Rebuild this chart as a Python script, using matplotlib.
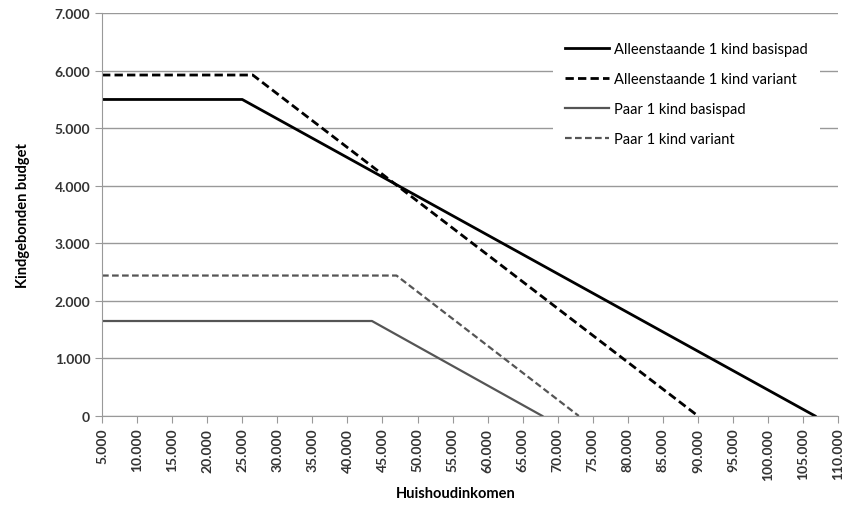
import matplotlib.pyplot as plt
from matplotlib.ticker import FuncFormatter, MultipleLocator

# knikpunten per reeks (inkomen, budget)
alleen_basis_x = [5000, 25000, 106700]
alleen_basis_y = [5500, 5500, 0]
alleen_var_x = [5000, 26500, 90000]
alleen_var_y = [5925, 5925, 0]
paar_basis_x = [5000, 43500, 67800]
paar_basis_y = [1650, 1650, 0]
paar_var_x = [5000, 47000, 73000]
paar_var_y = [2440, 2440, 0]

plt.rcParams['font.family'] = ['Lato', 'DejaVu Sans']

fig = plt.figure(figsize=(8.61, 5.06), dpi=100)
ax = fig.add_axes([0.1185, 0.176, 0.855, 0.796])

ax.plot(alleen_basis_x, alleen_basis_y, color='black', lw=2.0,
        label='Alleenstaande 1 kind basispad')
ax.plot(alleen_var_x, alleen_var_y, color='black', lw=2.0, ls=(0, (3, 1.5)),
        label='Alleenstaande 1 kind variant')
ax.plot(paar_basis_x, paar_basis_y, color='#555555', lw=1.6,
        label='Paar 1 kind basispad')
ax.plot(paar_var_x, paar_var_y, color='#555555', lw=1.6, ls=(0, (3, 1.5)),
        label='Paar 1 kind variant')

ax.set_xlim(5000, 110000)
ax.set_ylim(0, 7000)
ax.xaxis.set_major_locator(MultipleLocator(5000))
ax.yaxis.set_major_locator(MultipleLocator(1000))

def dots(v, pos):
    return f'{int(v):,}'.replace(',', '.')

ax.xaxis.set_major_formatter(FuncFormatter(dots))
ax.yaxis.set_major_formatter(FuncFormatter(dots))

ax.grid(axis='y', color='#999999', lw=1.0)
ax.set_axisbelow(True)
for s in ['top', 'right']:
    ax.spines[s].set_visible(False)
for s in ['left', 'bottom']:
    ax.spines[s].set_color('#999999')
ax.tick_params(axis='both', colors='#999999', length=5, labelcolor='#333333',
               labelsize=10)
for lab in ax.get_xticklabels():
    lab.set_rotation(90)
    lab.set_fontweight('bold')
for lab in ax.get_yticklabels():
    lab.set_fontweight('bold')

ax.set_xlabel('Huishoudinkomen', fontsize=10.5, fontweight='bold')
ax.xaxis.set_label_coords(0.48, -0.175)
ax.set_ylabel('Kindgebonden budget', fontsize=10.5, fontweight='bold')
ax.yaxis.set_label_coords(-0.098, 0.5)

leg = ax.legend(loc='upper right', bbox_to_anchor=(0.985, 0.975), frameon=True,
                fontsize=10.5, handlelength=3.0, labelspacing=1.1,
                borderpad=0.8, handletextpad=0.4)
leg.get_frame().set_edgecolor('none')
leg.get_frame().set_facecolor('white')
leg.get_frame().set_alpha(1)

fig.savefig('out.png', dpi=100)
